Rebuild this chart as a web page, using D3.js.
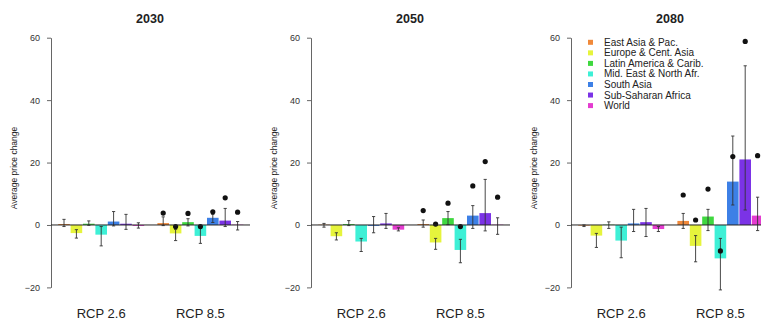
<!DOCTYPE html>
<html>
<head>
<meta charset="utf-8">
<script src="https://cdn.jsdelivr.net/npm/d3@7"></script>
<style>
  body { margin: 0; background: #fff; }
  svg { font-family: "Liberation Sans", Arial, sans-serif; display: block; }
</style>
</head>
<body>
<div id="chart"></div>
<script>
// data
const years = ["2030", "2050", "2080"];
const scenarios = ["RCP 2.6", "RCP 8.5"];
const regions = ["East Asia & Pac.", "Europe & Cent. Asia", "Latin America & Carib.",
    "Mid. East & North Afr.", "South Asia", "Sub-Saharan Africa", "World"];
const regionColors = ["#f0893a", "#e6f43c", "#3fd83f", "#3ef0d6", "#3d80e6", "#7b33e6", "#e43cd0"];

// mean bar values [year][scenario][region]
const means = [
    [[0.3, -2.6, 0.4, -3.1, 1.1, 0.4, -0.3], [0.6, -2.7, 0.9, -3.5, 2.3, 1.4, 0.1]],
    [[0.1, -3.6, 0.3, -5.3, -0.3, 0.5, -1.5], [0.3, -5.6, 2.2, -8.0, 3.0, 3.8, 0.1]],
    [[-0.2, -3.4, 0.1, -5.0, 0.5, 0.9, -1.3], [1.3, -6.7, 2.7, -10.7, 13.9, 21.0, 3.0]]
];
const lows = [
    [[-0.5, -4.2, -0.1, -6.7, -0.3, -1.4, -1.0], [-0.2, -5.0, -0.3, -5.9, 0.8, -0.5, -1.6]],
    [[-0.7, -4.8, -0.2, -8.5, -2.5, -1.1, -1.9], [-0.7, -7.8, 0.1, -12.1, -1.1, -1.9, -3.0]],
    [[-0.5, -7.2, -1.1, -10.5, -2.1, -3.7, -2.1], [-1.1, -11.8, -1.8, -20.8, 6.4, 4.8, -1.8]]
];
const highs = [
    [[1.8, -1.5, 1.3, -0.5, 4.3, 3.4, 0.7], [2.6, -1.4, 2.0, -1.0, 3.4, 5.3, 1.1]],
    [[0.5, -2.5, 1.4, -4.3, 2.7, 3.7, -0.9], [1.6, -4.3, 4.3, -4.6, 6.2, 14.6, 2.3]],
    [[0.0, -2.7, 1.0, -0.7, 5.0, 5.3, -0.5], [3.7, -3.4, 5.0, -4.3, 28.5, 51.0, 8.9]]
];
// black dots, RCP 8.5 only [year][region]
const dots85 = [
    [3.8, -0.5, 3.7, -0.5, 4.2, 8.7, 4.1],
    [4.6, 0.3, 7.0, -0.5, 12.5, 20.3, 8.9],
    [9.6, 1.6, 11.5, -8.3, 21.9, 58.8, 22.2]
];
const yTicks = [-20, 0, 20, 40, 60];

const width = 761, height = 320, panelStep = 260;

const svg = d3.select("#chart").append("svg")
    .attr("width", width)
    .attr("height", height);

svg.append("rect").attr("width", width).attr("height", height).attr("fill", "#fff");

const y = d3.scaleLinear().domain([-20, 60]).range([287.4, 37.7]);
const xGroup = d3.scaleBand().domain(scenarios).range([57.8, 243.8]).paddingInner(1 / 8).paddingOuter(0);
const xBar = d3.scaleBand().domain(regions).range([0, xGroup.bandwidth()]).padding(0);

years.forEach((year, yi) => {
    const g = svg.append("g").attr("transform", "translate(" + (yi * panelStep) + ",0)");

    g.append("text")
        .attr("x", 150).attr("y", 23)
        .attr("text-anchor", "middle")
        .attr("font-size", 12.5).attr("font-weight", "bold")
        .attr("fill", "#222")
        .text(year);

    const axis = g.append("g")
        .attr("transform", "translate(51,0)")
        .call(d3.axisLeft(y).tickValues(yTicks).tickSize(4).tickSizeOuter(0).tickPadding(7));
    axis.select(".domain").attr("stroke", "#666");
    axis.selectAll(".tick line").attr("stroke", "#666");
    axis.selectAll(".tick text").attr("font-size", 9).attr("fill", "#333")
        .attr("font-family", "Liberation Sans, Arial, sans-serif");

    g.append("text")
        .attr("transform", "translate(17,168) rotate(-90)")
        .attr("text-anchor", "middle")
        .attr("font-size", 8.5).attr("fill", "#222")
        .text("Average price change");

    g.selectAll(".catLabel")
        .data(scenarios)
        .join("text")
        .attr("class", "catLabel")
        .attr("x", d => xGroup(d) + xGroup.bandwidth() / 2)
        .attr("y", 318)
        .attr("text-anchor", "middle")
        .attr("font-size", 13).attr("fill", "#222")
        .text(d => d);

    scenarios.forEach((sc, si) => {
        const items = regions.map((r, ri) => ({
            region: r,
            color: regionColors[ri],
            mean: means[yi][si][ri],
            low: lows[yi][si][ri],
            high: highs[yi][si][ri],
            dot: si === 1 ? dots85[yi][ri] : null
        }));
        const sg = g.append("g").attr("transform", "translate(" + xGroup(sc) + ",0)");

        sg.selectAll(".bar")
            .data(items)
            .join("rect")
            .attr("class", "bar")
            .attr("x", d => xBar(d.region) + 0.4)
            .attr("width", xBar.bandwidth() - 0.8)
            .attr("y", d => y(Math.max(0, d.mean)))
            .attr("height", d => Math.abs(y(d.mean) - y(0)))
            .attr("fill", d => d.color);

        const cx = d => xBar(d.region) + xBar.bandwidth() / 2;
        const err = sg.selectAll(".err").data(items).join("g").attr("class", "err")
            .attr("stroke", "#333").attr("stroke-width", 0.9);
        err.append("line")
            .attr("x1", cx).attr("x2", cx)
            .attr("y1", d => y(d.low)).attr("y2", d => y(d.high));
        err.append("line")
            .attr("x1", d => cx(d) - 1.6).attr("x2", d => cx(d) + 1.6)
            .attr("y1", d => y(d.low)).attr("y2", d => y(d.low));
        err.append("line")
            .attr("x1", d => cx(d) - 1.6).attr("x2", d => cx(d) + 1.6)
            .attr("y1", d => y(d.high)).attr("y2", d => y(d.high));

        sg.selectAll(".dot")
            .data(items.filter(d => d.dot !== null))
            .join("circle")
            .attr("class", "dot")
            .attr("cx", cx)
            .attr("cy", d => y(d.dot))
            .attr("r", 2.6)
            .attr("fill", "#111");
    });

    g.append("line")
        .attr("x1", 51).attr("x2", 250)
        .attr("y1", y(0)).attr("y2", y(0))
        .attr("stroke", "#222").attr("stroke-width", 1);

    if (yi === 2) {
        const leg = g.append("g").attr("transform", "translate(68,0)");
        const rows = leg.selectAll(".legRow")
            .data(regions)
            .join("g")
            .attr("class", "legRow")
            .attr("transform", (d, i) => "translate(0," + (42.3 + i * 10.55) + ")");
        rows.append("rect")
            .attr("x", 0).attr("y", -2.5)
            .attr("width", 5).attr("height", 5)
            .attr("fill", (d, i) => regionColors[i]);
        rows.append("text")
            .attr("x", 16).attr("y", 3.5)
            .attr("font-size", 10).attr("fill", "#222")
            .text(d => d);
    }
});
</script>
</body>
</html>
